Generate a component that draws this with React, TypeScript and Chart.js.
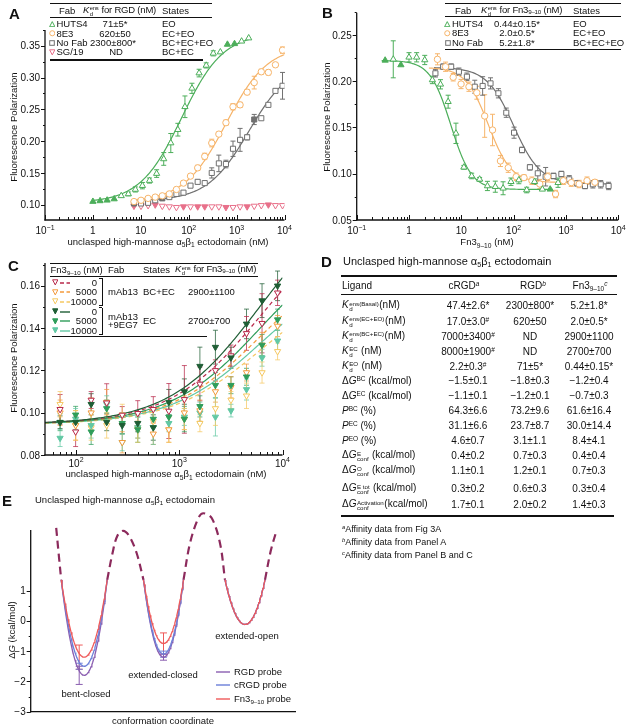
import React, { useEffect, useRef } from "react";
import { Chart, registerables } from "chart.js";
Chart.register(...registerables);

const W = 629, H = 727;
const FONT = '"Liberation Sans", Arial, Helvetica, sans-serif';

// ---------------- Panel A data ----------------
const aHutsX = [1, 1.41, 1.98, 2.78, 3.9, 5.5, 7.7, 10.8, 15.2, 21.4, 30.1, 42.3, 59.4, 83.5, 117, 165, 232, 326, 458, 644, 905, 1272, 1788];
const aHutsY = [0.105, 0.106, 0.107, 0.109, 0.114, 0.117, 0.124, 0.130, 0.138, 0.149, 0.172, 0.197, 0.218, 0.254, 0.283, 0.307, 0.319, 0.338, 0.340, 0.352, 0.353, 0.357, 0.362];
const aHutsErr = [0, 0, 0, 0, 0, 0.003, 0.004, 0.005, 0.004, 0.006, 0.01, 0.015, 0.01, 0.017, 0.008, 0.006, 0.004, 0.004, 0, 0, 0, 0, 0];
const aHutsFilled = [1, 1, 1, 1, 0, 0, 0, 0, 0, 0, 0, 0, 0, 0, 0, 0, 0, 0, 0, 1, 1, 0, 0];
const aDilX = [7.2, 10.1, 14.2, 20.0, 28.1, 39.4, 55.4, 77.8, 109, 154, 216, 303, 426, 599, 841, 1182, 1660, 2333, 3278, 4606, 6471, 9092];
const a8e3Y = [0.105, 0.107, 0.110, 0.112, 0.114, 0.117, 0.124, 0.134, 0.145, 0.158, 0.176, 0.197, 0.211, 0.229, 0.254, 0.257, 0.277, 0.292, 0.309, 0.308, 0.320, 0.343];
const a8e3Err = [0, 0, 0, 0, 0, 0, 0, 0, 0.003, 0.004, 0.005, 0.006, 0.003, 0.004, 0.005, 0.004, 0.004, 0.01, 0.004, 0.004, 0.003, 0.005];
const aNoFabY = [0.102, 0.102, 0.103, 0.107, 0.110, 0.112, 0.117, 0.119, 0.130, 0.136, 0.134, 0.150, 0.165, 0.164, 0.188, 0.202, 0.206, 0.234, 0.236, 0.257, 0.279, 0.287];
const aNoFabErr = [0, 0, 0, 0, 0, 0, 0, 0, 0, 0.003, 0, 0.008, 0.013, 0.006, 0.012, 0.018, 0.004, 0.008, 0, 0, 0, 0.021];
const aNoFabFilled = [1, 0, 0, 0, 1, 0, 0, 0, 0, 0, 0, 0, 0, 0, 0, 0, 0, 1, 0, 0, 0, 0];
const aSgY = [0.098, 0.098, 0.099, 0.100, 0.098, 0.097, 0.096, 0.097, 0.097, 0.097, 0.097, 0.097, 0.097, 0.096, 0.096, 0.097, 0.097, 0.098, 0.099, 0.100, 0.099, 0.099];
const aSgFilled = [1, 0, 0, 1, 0, 0, 0, 1, 0, 1, 1, 0, 0, 1, 0, 0, 1, 0, 0, 1, 0, 0];
const aFitHuts = { bottom: 0.103, top: 0.370, k: 71, from: 1, to: 1950 };
const aFit8e3 = { bottom: 0.105, top: 0.350, k: 600, from: 7, to: 10000 };
const aFitNoFab = { bottom: 0.106, top: 0.325, k: 1800, from: 7, to: 9300 };

// ---------------- Panel B data ----------------
const bHutsX = [0.35, 0.5, 0.7, 1.0, 1.4, 2.0, 2.8, 4.0, 5.6, 7.9, 11.2, 15.8, 22.4, 31.6, 44.7, 63, 89, 126, 178, 251, 355, 501, 708];
const bHutsY = [0.2226, 0.2237, 0.2176, 0.2259, 0.2259, 0.223, 0.2014, 0.1967, 0.1779, 0.1437, 0.107, 0.0976, 0.094, 0.0868, 0.086, 0.0843, 0.0914, 0.0932, 0.0824, 0.0914, 0.0832, 0.0832, 0.0903];
const bHutsErr = [0, 0.02, 0, 0.005, 0.005, 0.005, 0.004, 0.005, 0.007, 0.011, 0.002, 0.003, 0.002, 0.005, 0.006, 0.007, 0.004, 0.004, 0.003, 0.003, 0, 0, 0.005];
const bHutsFilled = [1, 0, 1, 0, 0, 0, 0, 0, 0, 0, 0, 0, 0, 0, 0, 0, 0, 0, 0, 0, 0, 1, 0];
const b8e3X = [3.5, 5.0, 7.0, 9.9, 14, 19.8, 28, 39.6, 56, 79, 112, 158, 224, 317, 448, 634, 896, 1267, 1792, 2534, 3584];
const b8e3Y = [0.2237, 0.2157, 0.2043, 0.197, 0.1941, 0.1876, 0.1624, 0.1473, 0.1138, 0.1065, 0.0968, 0.0958, 0.0925, 0.0889, 0.0968, 0.0781, 0.0925, 0.0904, 0.0889, 0.0925, 0.0908];
const b8e3Err = [0.006, 0.005, 0.004, 0.005, 0.005, 0.007, 0.023, 0.017, 0.006, 0.005, 0.004, 0.003, 0.004, 0.005, 0.004, 0.004, 0.004, 0.004, 0.004, 0.004, 0.003];
const bNoFabX = [3.2, 4.5, 6.4, 9.0, 12.8, 18.1, 25.6, 36.2, 51.2, 72.4, 102, 145, 205, 290, 410, 579, 819, 1158, 1638, 2317, 3277, 4634, 6554];
const bNoFabY = [0.2086, 0.2157, 0.2157, 0.2103, 0.2049, 0.1941, 0.1949, 0.1977, 0.187, 0.166, 0.1444, 0.1257, 0.107, 0.1005, 0.0968, 0.0976, 0.0997, 0.094, 0.0897, 0.0868, 0.0886, 0.0886, 0.0868];
const bNoFabErr = [0.004, 0.003, 0.003, 0.004, 0.004, 0.007, 0.01, 0.006, 0.005, 0.005, 0.006, 0.003, 0.003, 0.008, 0.01, 0.003, 0.003, 0.004, 0.003, 0.003, 0.004, 0.004, 0.004];
const bFitHuts = { top: 0.2225, bottom: 0.083, ic: 6.3, h: 2.2, from: 0.3, to: 560 };
const bFit8e3 = { top: 0.215, bottom: 0.0905, ic: 33, h: 2.0, from: 2.4, to: 3600 };
const bFitNoFab = { top: 0.215, bottom: 0.089, ic: 100, h: 1.7, from: 3, to: 7000 };

// ---------------- Panel C data ----------------
const cX = [70, 99, 140, 198, 280, 396, 560, 792, 1120, 1584, 2240, 3168, 4480, 6336, 8960];
const cM0Y = [0.1016, 0.091, 0.106, 0.1047, 0.0989, 0.0997, 0.1016, 0.1008, 0.1063, 0.1136, 0.120, 0.127, 0.1375, 0.1423, 0.1567];
const cM0Err = [0.007, 0.007, 0.004, 0.009, 0.004, 0.006, 0.006, 0.013, 0.016, 0.008, 0.005, 0.005, 0.008, 0.014, 0.006];
const cM5Y = [0.100, 0.094, 0.100, 0.105, 0.086, 0.092, 0.090, 0.092, 0.100, 0.101, 0.110, 0.112, 0.119, 0.132, 0.141];
const cM5Err = [0.006, 0.007, 0.007, 0.006, 0.005, 0.004, 0.005, 0.006, 0.008, 0.005, 0.005, 0.005, 0.004, 0.006, 0.005];
const cM10Y = [0.104, 0.094, 0.093, 0.094, 0.099, 0.093, 0.096, 0.092, 0.097, 0.095, 0.102, 0.106, 0.108, 0.119, 0.129];
const cM10Err = [0.006, 0.007, 0.006, 0.006, 0.005, 0.007, 0.006, 0.006, 0.005, 0.004, 0.008, 0.004, 0.006, 0.005, 0.004];
const cE0Y = [0.0955, 0.0955, 0.104, 0.0955, 0.094, 0.095, 0.093, 0.105, 0.110, 0.122, 0.131, 0.126, 0.142, 0.153, 0.160];
const cE0Err = [0.003, 0.004, 0.005, 0.004, 0.004, 0.004, 0.006, 0.006, 0.006, 0.009, 0.008, 0.005, 0.007, 0.008, 0.007];
const cE5Y = [0.0955, 0.099, 0.091, 0.102, 0.095, 0.092, 0.097, 0.098, 0.097, 0.103, 0.113, 0.113, 0.117, 0.132, 0.144];
const cE5Err = [0.004, 0.004, 0.006, 0.004, 0.005, 0.006, 0.004, 0.005, 0.006, 0.005, 0.006, 0.004, 0.004, 0.005, 0.005];
const cE10Y = [0.088, 0.097, 0.094, 0.104, 0.086, 0.093, 0.093, 0.095, 0.098, 0.100, 0.098, 0.101, 0.111, 0.126, 0.134];
const cE10Err = [0.004, 0.005, 0.006, 0.004, 0.004, 0.005, 0.008, 0.004, 0.004, 0.005, 0.009, 0.003, 0.005, 0.004, 0.005];
const cFitBase = 0.0945, cFitK = 6000;
const cFitAmp = { m0: 0.1016, m5: 0.0824, m10: 0.0696, e0: 0.111, e5: 0.0904, e10: 0.076 };

// ---------------- Panel D data ----------------
const dCRGD = ["47.4±2.6*", "17.0±3.0#", "7000±3400#", "8000±1900#", "2.2±0.3#", "−1.5±0.1", "−1.1±0.1", "64.3±6.6", "31.1±6.6", "4.6±0.7", "0.4±0.2", "1.1±0.1", "0.3±0.2", "1.7±0.1"];
const dRGD = ["2300±800*", "620±50", "ND", "ND", "71±5*", "−1.8±0.3", "−1.2±0.1", "73.2±9.6", "23.7±8.7", "3.1±1.1", "0.7±0.3", "1.2±0.1", "0.6±0.3", "2.0±0.2"];
const dFn3 = ["5.2±1.8*", "2.0±0.5*", "2900±1100", "2700±700", "0.44±0.15*", "−1.2±0.4", "−0.7±0.3", "61.6±16.4", "30.0±14.4", "8.4±4.1", "0.4±0.4", "0.7±0.3", "0.3±0.4", "1.4±0.3"];
const dRowY = [306, 321.5, 336.5, 351.5, 366.5, 381, 396.3, 411, 426, 441, 456, 471, 489, 505];

// ---------------- Panel E data ----------------
const eWellCenter = [53.5, 132.8, 214.3];
const eWellHalf = [23, 20, 20];
const eWellTop = 1.35;
const eMinRGD = [-1.8, -1.2, -0.12];
const eMinCRGD = [-1.5, -1.1, -0.12];
const eMinFn3 = [-1.2, -0.75, -0.12];
const eErrRGD = [0.3, 0.1];
const eErrCRGD = [0.1, 0.1];
const eErrFn3 = [0.4, 0.35];
const eErrX = [48.5, 132.8];
const eBarX = [25.5, 28.0, 30.5, null, 76.5, 81.8, 86.6, 92.6, 98.5, 106, 112.8, null, 152.8, 159.3, 167.6, 172.6, 181, 189.3, 194.3, null, 234.3, 240, 246];
const eBarY = [3.07, 2.2, 1.35, null, 1.35, 2.23, 2.8, 2.97, 2.8, 2.23, 1.35, null, 1.35, 2.56, 3.39, 3.55, 3.39, 2.56, 1.35, null, 1.35, 2.3, 3.0];

// ---------------- colours ----------------
const GREEN = "#4cae5a", ORANGE = "#f6b46a", GREY = "#707070", PINK = "#e8708a";
const C_M0 = "#b8284a", C_M5 = "#f39a3c", C_M10 = "#f5c862", C_E0 = "#1f5e35", C_E5 = "#2f9d5a", C_E10 = "#62c8a4";
const E_RGD = "#8a5db0", E_CRGD = "#6b7fd8", E_FN3 = "#ef5a5a", E_DASH = "#8c2a5c";

type Seg = { t: string; k?: "sub" | "sup"; i?: boolean };

function segFont(size: number, s: Seg) {
  const sz = s.k ? size * 0.7 : size;
  return `${s.i ? "italic " : ""}${sz}px ${FONT}`;
}
function drawRich(ctx: CanvasRenderingContext2D, segs: Seg[], x: number, y: number, size: number, align: string) {
  let w = 0;
  for (const s of segs) { ctx.font = segFont(size, s); w += ctx.measureText(s.t).width; }
  let cx = align === "center" ? x - w / 2 : align === "right" ? x - w : x;
  ctx.textAlign = "left";
  ctx.textBaseline = "alphabetic";
  for (const s of segs) {
    ctx.font = segFont(size, s);
    const dy = s.k === "sub" ? size * 0.25 : s.k === "sup" ? -size * 0.42 : 0;
    ctx.fillText(s.t, cx, y + dy);
    cx += ctx.measureText(s.t).width;
  }
}

function logGrid(min: number, max: number, n: number) {
  const a = Math.log10(min), b = Math.log10(max);
  return Array.from({ length: n }, (_, i) => Math.pow(10, a + ((b - a) * i) / (n - 1)));
}
function decadeMinors(from: number, to: number) {
  const out: number[] = [];
  for (let e = from; e < to; e++) for (let m = 2; m <= 9; m++) out.push(m * Math.pow(10, e));
  return out;
}
function powLabel(v: number): Seg[] {
  const e = Math.round(Math.log10(v));
  if (e === 0) return [{ t: "1" }];
  if (e === 1) return [{ t: "10" }];
  return [{ t: "10" }, { t: e < 0 ? "−" + -e : String(e), k: "sup" }];
}
function steps(a: number, b: number, s: number) {
  const out: number[] = [];
  for (let v = a; v <= b + 1e-9; v += s) out.push(Math.round(v * 1000) / 1000);
  return out;
}

function pts(xs: number[], ys: (number | null)[]) {
  return xs.map((x, i) => ({ x, y: ys[i] }));
}
function markerDs(xs: number[], ys: number[], errs: number[] | null, o: any) {
  return {
    type: "scatter",
    data: pts(xs, ys),
    errs,
    errColor: o.errColor ?? o.color,
    pointStyle: o.style,
    pointRotation: o.rotation ?? 0,
    pointRadius: o.radius ?? 3.3,
    pointBorderWidth: 1,
    pointBorderColor: o.color,
    pointBackgroundColor: xs.map((_, i) => ((Array.isArray(o.filled) ? o.filled[i] : o.filled) ? o.color : "#ffffff")),
    showLine: false,
  };
}
function curveDs(xs: number[], ys: (number | null)[], color: string, dash: number[] = [], width = 1, tension = 0) {
  return {
    type: "scatter",
    data: pts(xs, ys),
    showLine: true,
    borderColor: color,
    borderWidth: width,
    borderDash: dash,
    pointRadius: 0,
    fill: false,
    tension,
    spanGaps: false,
  };
}

function makeDecor(id: string, cfg: any) {
  return {
    id,
    beforeDatasetsDraw(chart: any) {
      const ctx = chart.ctx as CanvasRenderingContext2D;
      const ys = chart.scales.y;
      chart.data.datasets.forEach((ds: any, i: number) => {
        if (!ds.errs) return;
        const meta = chart.getDatasetMeta(i);
        ctx.save();
        ctx.strokeStyle = ds.errColor;
        ctx.lineWidth = 1;
        meta.data.forEach((el: any, j: number) => {
          const e = ds.errs[j];
          if (!e) return;
          const v = ds.data[j].y;
          const x = el.x;
          const y1 = ys.getPixelForValue(v - e), y2 = ys.getPixelForValue(v + e);
          const c = cfg.cap;
          ctx.beginPath();
          ctx.moveTo(x, y1); ctx.lineTo(x, y2);
          ctx.moveTo(x - c, y1); ctx.lineTo(x + c, y1);
          ctx.moveTo(x - c, y2); ctx.lineTo(x + c, y2);
          ctx.stroke();
        });
        ctx.restore();
      });
    },
    afterDraw(chart: any) {
      const ctx = chart.ctx as CanvasRenderingContext2D;
      const ca = chart.chartArea;
      ctx.save();
      ctx.strokeStyle = "#111";
      ctx.fillStyle = "#111";
      for (const ax of cfg.axes) {
        if (ax.pos === "bottom") {
          const s = chart.scales.x;
          const y0 = ca.bottom;
          const xa = ax.lineFrom != null ? s.getPixelForValue(ax.lineFrom) : ca.left;
          const xb = ax.lineTo != null ? s.getPixelForValue(ax.lineTo) : ca.right;
          ctx.lineWidth = 1.3;
          ctx.beginPath(); ctx.moveTo(xa - 0.6, y0); ctx.lineTo(xb, y0); ctx.stroke();
          ctx.lineWidth = 1;
          const dir = ax.inward ? -1 : 1;
          ctx.beginPath();
          for (const v of ax.major) { const p = Math.round(s.getPixelForValue(v)) + 0.5; ctx.moveTo(p, y0); ctx.lineTo(p, y0 + dir * ax.majLen); }
          for (const v of ax.minor) { const p = Math.round(s.getPixelForValue(v)) + 0.5; ctx.moveTo(p, y0); ctx.lineTo(p, y0 + dir * ax.minLen); }
          ctx.stroke();
          for (const l of ax.labels) drawRich(ctx, l.segs, s.getPixelForValue(l.v), y0 + ax.labelGap, ax.size, "center");
        } else {
          const s = chart.scales.y;
          const x0 = ca.left;
          const ya = ax.lineFrom != null ? s.getPixelForValue(ax.lineFrom) : ca.bottom;
          const yb = ax.lineTo != null ? s.getPixelForValue(ax.lineTo) : ca.top;
          ctx.lineWidth = 1.3;
          ctx.beginPath(); ctx.moveTo(x0, ya + 0.6); ctx.lineTo(x0, yb); ctx.stroke();
          ctx.lineWidth = 1;
          const dir = ax.inward ? 1 : -1;
          ctx.beginPath();
          for (const v of ax.major) { const p = Math.round(s.getPixelForValue(v)) + 0.5; ctx.moveTo(x0, p); ctx.lineTo(x0 + dir * ax.majLen, p); }
          for (const v of ax.minor) { const p = Math.round(s.getPixelForValue(v)) + 0.5; ctx.moveTo(x0, p); ctx.lineTo(x0 + dir * ax.minLen, p); }
          ctx.stroke();
          for (const l of ax.labels) drawRich(ctx, l.segs, x0 - ax.labelGap, s.getPixelForValue(l.v) + ax.size * 0.36, ax.size, "right");
        }
      }
      for (const t of cfg.titles) {
        if (t.rot) {
          ctx.save();
          ctx.translate(t.x, t.y);
          ctx.rotate(-Math.PI / 2);
          drawRich(ctx, t.segs, 0, t.size * 0.36, t.size, "center");
          ctx.restore();
        } else {
          drawRich(ctx, t.segs, t.x, t.y + t.size * 0.36, t.size, "center");
        }
      }
      ctx.restore();
    },
  };
}

function baseOptions(pad: any, x: any, y: any) {
  return {
    animation: false,
    responsive: false,
    devicePixelRatio: 1,
    layout: { padding: pad },
    plugins: { legend: { display: false }, tooltip: { enabled: false } },
    scales: { x: { ...x, display: false }, y: { ...y, display: false } },
  };
}

const ALPHA_TITLE: Seg[] = [{ t: "unclasped high-mannose α" }, { t: "5", k: "sub" }, { t: "β" }, { t: "1", k: "sub" }, { t: " ectodomain (nM)" }];
const FP_TITLE: Seg[] = [{ t: "Fluorescence Polarization" }];

function configA(): any {
  const g1 = logGrid(aFitHuts.from, aFitHuts.to, 150);
  const g2 = logGrid(aFit8e3.from, aFit8e3.to, 150);
  const g3 = logGrid(aFitNoFab.from, aFitNoFab.to, 150);
  const hyp = (p: any, x: number) => p.bottom + ((p.top - p.bottom) * x) / (x + p.k);
  return {
    type: "scatter",
    data: {
      datasets: [
        markerDs(aHutsX, aHutsY, aHutsErr, { color: GREEN, style: "triangle", radius: 3.6, filled: aHutsFilled }),
        markerDs(aDilX, a8e3Y, a8e3Err, { color: ORANGE, style: "circle", radius: 3.2, filled: false }),
        markerDs(aDilX, aNoFabY, aNoFabErr, { color: GREY, style: "rect", radius: 3.6, filled: aNoFabFilled }),
        markerDs(aDilX, aSgY, null, { color: PINK, style: "triangle", rotation: 180, radius: 3.6, filled: aSgFilled }),
        curveDs(g1, g1.map((x) => hyp(aFitHuts, x)), GREEN, [], 1.2),
        curveDs(g2, g2.map((x) => hyp(aFit8e3, x)), ORANGE, [], 1.2),
        curveDs(g3, g3.map((x) => hyp(aFitNoFab, x)), GREY, [], 1.2),
      ],
    },
    options: baseOptions({ left: 45, top: 30, right: W - 284.5, bottom: H - 220 }, { type: "logarithmic", min: 0.1, max: 10000 }, { type: "linear", min: 0.076, max: 0.3747 }),
    plugins: [
      makeDecor("decorA", {
        cap: 2.5,
        axes: [
          { pos: "bottom", major: [0.1, 1, 10, 100, 1000, 10000], minor: decadeMinors(-1, 4), inward: true, majLen: 5, minLen: 3, labelGap: 14, size: 10, labels: [0.1, 1, 10, 100, 1000, 10000].map((v) => ({ v, segs: powLabel(v) })) },
          { pos: "left", major: steps(0.1, 0.35, 0.05), minor: steps(0.125, 0.375, 0.05), inward: false, majLen: 4, minLen: 2, labelGap: 5, size: 10, labels: steps(0.1, 0.35, 0.05).map((v) => ({ v, segs: [{ t: v.toFixed(2) }] })) },
        ],
        titles: [
          { x: 168, y: 241.5, segs: ALPHA_TITLE, size: 9.5 },
          { x: 14, y: 127, segs: FP_TITLE, size: 9.5, rot: true },
        ],
      }),
    ],
  };
}

function configB(): any {
  const hill = (p: any, x: number) => p.bottom + (p.top - p.bottom) / (1 + Math.pow(x / p.ic, p.h));
  const g1 = logGrid(bFitHuts.from, bFitHuts.to, 150);
  const g2 = logGrid(bFit8e3.from, bFit8e3.to, 150);
  const g3 = logGrid(bFitNoFab.from, bFitNoFab.to, 150);
  return {
    type: "scatter",
    data: {
      datasets: [
        markerDs(bHutsX, bHutsY, bHutsErr, { color: GREEN, style: "triangle", radius: 3.6, filled: bHutsFilled }),
        markerDs(b8e3X, b8e3Y, b8e3Err, { color: ORANGE, style: "circle", radius: 3.2, filled: false }),
        markerDs(bNoFabX, bNoFabY, bNoFabErr, { color: GREY, style: "rect", radius: 3.6, filled: false }),
        curveDs(g1, g1.map((x) => hill(bFitHuts, x)), GREEN, [], 1.2),
        curveDs(g2, g2.map((x) => hill(bFit8e3, x)), ORANGE, [], 1.2),
        curveDs(g3, g3.map((x) => hill(bFitNoFab, x)), GREY, [], 1.2),
      ],
    },
    options: baseOptions({ left: 356.7, top: 12.7, right: W - 618.2, bottom: H - 220 }, { type: "logarithmic", min: 0.1, max: 10000 }, { type: "linear", min: 0.05, max: 0.2741 }),
    plugins: [
      makeDecor("decorB", {
        cap: 2.5,
        axes: [
          { pos: "bottom", major: [0.1, 1, 10, 100, 1000, 10000], minor: decadeMinors(-1, 4), inward: true, majLen: 5, minLen: 3, labelGap: 14, size: 10, labels: [0.1, 1, 10, 100, 1000, 10000].map((v) => ({ v, segs: powLabel(v) })) },
          { pos: "left", major: steps(0.05, 0.25, 0.05), minor: steps(0.075, 0.275, 0.05), inward: false, majLen: 4, minLen: 2, labelGap: 5, size: 10, labels: steps(0.05, 0.25, 0.05).map((v) => ({ v, segs: [{ t: v.toFixed(2) }] })) },
        ],
        titles: [
          { x: 487, y: 242, segs: [{ t: "Fn3" }, { t: "9–10", k: "sub" }, { t: " (nM)" }], size: 9.5 },
          { x: 327, y: 117, segs: FP_TITLE, size: 9.5, rot: true },
        ],
      }),
    ],
  };
}

function configC(): any {
  const g = logGrid(50, 10000, 150);
  const f = (amp: number) => g.map((x) => cFitBase + (amp * x) / (x + cFitK));
  const err = (c: string) => c + "bb";
  return {
    type: "scatter",
    data: {
      datasets: [
        markerDs(cX, cE0Y, cE0Err, { color: C_E0, errColor: err(C_E0), style: "triangle", rotation: 180, radius: 3.6, filled: true }),
        markerDs(cX, cM0Y, cM0Err, { color: C_M0, errColor: err(C_M0), style: "triangle", rotation: 180, radius: 3.6, filled: false }),
        markerDs(cX, cE5Y, cE5Err, { color: C_E5, errColor: err(C_E5), style: "triangle", rotation: 180, radius: 3.6, filled: true }),
        markerDs(cX, cM5Y, cM5Err, { color: C_M5, errColor: err(C_M5), style: "triangle", rotation: 180, radius: 3.6, filled: false }),
        markerDs(cX, cE10Y, cE10Err, { color: C_E10, errColor: err(C_E10), style: "triangle", rotation: 180, radius: 3.6, filled: true }),
        markerDs(cX, cM10Y, cM10Err, { color: C_M10, errColor: err(C_M10), style: "triangle", rotation: 180, radius: 3.6, filled: false }),
        curveDs(g, f(cFitAmp.e0), C_E0, [], 1.2),
        curveDs(g, f(cFitAmp.m0), C_M0, [4, 3], 1.2),
        curveDs(g, f(cFitAmp.e5), C_E5, [], 1.2),
        curveDs(g, f(cFitAmp.m5), C_M5, [4, 3], 1.2),
        curveDs(g, f(cFitAmp.e10), C_E10, [], 1.2),
        curveDs(g, f(cFitAmp.m10), C_M10, [4, 3], 1.2),
      ],
    },
    options: baseOptions({ left: 45, top: 263, right: W - 282.5, bottom: H - 455 }, { type: "logarithmic", min: 50, max: 10000 }, { type: "linear", min: 0.08, max: 0.1708 }),
    plugins: [
      makeDecor("decorC", {
        cap: 2.5,
        axes: [
          { pos: "bottom", major: [100, 1000, 10000], minor: [60, 70, 80, 90].concat(decadeMinors(2, 4)), inward: true, majLen: 5, minLen: 3, labelGap: 11.5, size: 10, labels: [100, 1000, 10000].map((v) => ({ v, segs: powLabel(v) })) },
          { pos: "left", major: steps(0.08, 0.16, 0.02), minor: steps(0.09, 0.17, 0.02), inward: false, majLen: 4, minLen: 2, labelGap: 5, size: 10, labels: steps(0.08, 0.16, 0.02).map((v) => ({ v, segs: [{ t: v.toFixed(2) }] })) },
        ],
        titles: [
          { x: 166, y: 474, segs: ALPHA_TITLE, size: 9.5 },
          { x: 14, y: 358, segs: FP_TITLE, size: 9.5, rot: true },
        ],
      }),
    ],
  };
}

function wellSeries(mins: number[]) {
  const xs: number[] = [];
  const ys: (number | null)[] = [];
  for (let w = 0; w < 3; w++) {
    const c = eWellCenter[w], hw = eWellHalf[w], m = mins[w];
    for (let i = 0; i <= 60; i++) {
      const x = c - hw + (2 * hw * i) / 60;
      const u = (x - c) / hw;
      xs.push(x);
      ys.push(m + (eWellTop - m) * u * u);
    }
    xs.push(c + hw + 0.01);
    ys.push(null);
  }
  return { xs, ys };
}

function configE(): any {
  const r = wellSeries(eMinRGD), c = wellSeries(eMinCRGD), f = wellSeries(eMinFn3);
  const errDs = (mins: number[], errs: number[], color: string) => ({
    type: "scatter",
    data: eErrX.map((x, i) => ({ x, y: mins[i] })),
    errs,
    errColor: color,
    pointRadius: 0,
    showLine: false,
  });
  const dash = curveDs(eBarX as any, eBarY, E_DASH, [8, 5], 2.2, 0.35);
  return {
    type: "scatter",
    data: {
      datasets: [
        curveDs(f.xs, f.ys, E_FN3, [], 1.3),
        curveDs(c.xs, c.ys, E_CRGD, [], 1.3),
        curveDs(r.xs, r.ys, E_RGD, [], 1.3),
        errDs(eMinFn3, eErrFn3, E_FN3),
        errDs(eMinCRGD, eErrCRGD, E_CRGD),
        errDs(eMinRGD, eErrRGD, E_RGD),
        dash,
      ],
    },
    options: baseOptions({ left: 30.7, top: 499.6, right: W - 296, bottom: H - 711.7 }, { type: "linear", min: 0, max: 265.3 }, { type: "linear", min: -3, max: 4 }),
    plugins: [
      makeDecor("decorE", {
        cap: 3.5,
        axes: [
          { pos: "bottom", major: [], minor: [], inward: true, majLen: 0, minLen: 0, labelGap: 12, size: 10, labels: [] },
          { pos: "left", lineFrom: -3, lineTo: 3, major: [-3, -2, -1, 0, 1], minor: [-2.5, -1.5, -0.5, 0.5], inward: false, majLen: 4, minLen: 2, labelGap: 5, size: 10, labels: [-3, -2, -1, 0, 1].map((v) => ({ v, segs: [{ t: v < 0 ? "−" + -v : String(v) }] })) },
        ],
        titles: [
          { x: 163, y: 721, segs: [{ t: "conformation coordinate" }], size: 9.5 },
          { x: 12, y: 630, segs: [{ t: "Δ" }, { t: "G", i: true }, { t: " (kcal/mol)" }], size: 9.5, rot: true },
        ],
      }),
    ],
  };
}

// ---------------- HTML helpers ----------------
function Txt(p: any) {
  const tx = p.align === "center" ? "-50%" : p.align === "right" ? "-100%" : "0";
  return (
    <div
      style={{
        position: "absolute", left: p.x, top: p.y, transform: `translate(${tx},-50%)`,
        fontSize: p.size ?? 9.5, fontFamily: FONT, fontWeight: p.bold ? "bold" : "normal",
        whiteSpace: "nowrap", lineHeight: 1, color: p.color ?? "#111", letterSpacing: p.ls ?? 0,
      }}
    >
      {p.children}
    </div>
  );
}
function HLine({ x1, x2, y, w = 1 }: any) {
  return <div style={{ position: "absolute", left: x1, top: y - w / 2, width: x2 - x1, height: w, background: "#111" }} />;
}
function VLine({ x, y1, y2, w = 1 }: any) {
  return <div style={{ position: "absolute", left: x - w / 2, top: y1, width: w, height: y2 - y1, background: "#111" }} />;
}
const I = ({ children }: any) => <i>{children}</i>;
const Sup = ({ children }: any) => <span style={{ fontSize: "0.65em", verticalAlign: "0.5em", lineHeight: 0 }}>{children}</span>;
const Sub = ({ children }: any) => <span style={{ fontSize: "0.65em", verticalAlign: "-0.3em", lineHeight: 0 }}>{children}</span>;
const SS = ({ sup, sub }: any) => (
  <span style={{ display: "inline-flex", flexDirection: "column", fontSize: "0.62em", lineHeight: 0.95, verticalAlign: "0.4em", margin: "0 0.5px" }}>
    <span>{sup}</span>
    <span>{sub}</span>
  </span>
);
const Fn3 = () => (<>Fn3<Sub>9–10</Sub></>);

function Marker({ shape, color, filled, x, y, s = 6.5 }: any) {
  const fill = filled ? color : "#fff";
  let el: any = null;
  if (shape === "tri") el = <polygon points={`${s / 2},0.6 ${s - 0.6},${s - 0.8} 0.6,${s - 0.8}`} fill={fill} stroke={color} strokeWidth={1} />;
  if (shape === "down") el = <polygon points={`0.6,0.8 ${s - 0.6},0.8 ${s / 2},${s - 0.6}`} fill={fill} stroke={color} strokeWidth={1} />;
  if (shape === "circle") el = <circle cx={s / 2} cy={s / 2} r={s / 2 - 0.7} fill={fill} stroke={color} strokeWidth={1} />;
  if (shape === "square") el = <rect x={0.7} y={0.7} width={s - 1.4} height={s - 1.4} fill={fill} stroke={color} strokeWidth={1} />;
  return (
    <svg style={{ position: "absolute", left: x - s / 2, top: y - s / 2 }} width={s} height={s}>
      {el}
    </svg>
  );
}
function LineSample({ x1, x2, y, color, dashed }: any) {
  return (
    <svg style={{ position: "absolute", left: x1, top: y - 2 }} width={x2 - x1} height={4}>
      <line x1={0} y1={2} x2={x2 - x1} y2={2} stroke={color} strokeWidth={1.4} strokeDasharray={dashed ? "4 2.5" : undefined} />
    </svg>
  );
}

function ValCell({ v, x, y }: any) {
  const hash = v.endsWith("#");
  return (
    <Txt x={x} y={y} align="center" size={10}>
      {hash ? v.slice(0, -1) : v}
      {hash ? <Sup>#</Sup> : null}
    </Txt>
  );
}

const dLabels = [
  <><I>K</I><SS sup="ens(Basal)" sub="d" />(nM)</>,
  <><I>K</I><SS sup="ens(EC+EO)" sub="d" />(nM)</>,
  <><I>K</I><SS sup="ens(BC+EC)" sub="d" />(nM)</>,
  <><I>K</I><SS sup="EC" sub="d" /> (nM)</>,
  <><I>K</I><SS sup="EO" sub="d" /> (nM)</>,
  <>Δ<I>G</I><Sup>BC</Sup> (kcal/mol)</>,
  <>Δ<I>G</I><Sup>EC</Sup> (kcal/mol)</>,
  <><I>P</I><Sup>BC</Sup> (%)</>,
  <><I>P</I><Sup>EC</Sup> (%)</>,
  <><I>P</I><Sup>EO</Sup> (%)</>,
  <>Δ<I>G</I><SS sup="E" sub="conf" /> (kcal/mol)</>,
  <>Δ<I>G</I><SS sup="O" sub="conf" /> (kcal/mol)</>,
  <>Δ<I>G</I><SS sup="E tot" sub="conf" /> (kcal/mol)</>,
  <>Δ<I>G</I><SS sup="Activation" sub="conf" />(kcal/mol)</>,
];

export default function App() {
  const rA = useRef<HTMLCanvasElement>(null);
  const rB = useRef<HTMLCanvasElement>(null);
  const rC = useRef<HTMLCanvasElement>(null);
  const rE = useRef<HTMLCanvasElement>(null);
  useEffect(() => {
    const charts = [
      new Chart(rA.current as any, configA()),
      new Chart(rB.current as any, configB()),
      new Chart(rC.current as any, configC()),
      new Chart(rE.current as any, configE()),
    ];
    return () => charts.forEach((c) => c.destroy());
  }, []);
  const cv = { position: "absolute" as const, left: 0, top: 0, width: W, height: H };
  const cRows = [282.7, 292.3, 301.7, 311.7, 321, 330.7];
  const cLeg = [
    { c: C_M0, f: false, n: "0" }, { c: C_M5, f: false, n: "5000" }, { c: C_M10, f: false, n: "10000" },
    { c: C_E0, f: true, n: "0" }, { c: C_E5, f: true, n: "5000" }, { c: C_E10, f: true, n: "10000" },
  ];
  return (
    <div style={{ position: "absolute", left: 0, top: 0, width: W, height: H, background: "#fff", overflow: "hidden", fontFamily: FONT }}>
      <canvas ref={rA} width={W} height={H} style={cv} />
      <canvas ref={rB} width={W} height={H} style={cv} />
      <canvas ref={rC} width={W} height={H} style={cv} />
      <canvas ref={rE} width={W} height={H} style={cv} />

      {/* panel letters */}
      <Txt x={9} y={13} size={15} bold>A</Txt>
      <Txt x={322} y={12} size={15} bold>B</Txt>
      <Txt x={8} y={265} size={15} bold>C</Txt>
      <Txt x={321} y={261} size={15} bold>D</Txt>
      <Txt x={2} y={500} size={15} bold>E</Txt>

      {/* legend A */}
      <HLine x1={50} x2={212} y={3.5} w={1.6} />
      <Txt x={59} y={10.5}>Fab</Txt>
      <Txt x={83} y={10.5} ls={-0.2}><I>K</I><SS sup="ens" sub="d" /> for RGD (nM)</Txt>
      <Txt x={162} y={10.5}>States</Txt>
      <HLine x1={50} x2={212} y={17.3} w={0.8} />
      <Marker shape="tri" color={GREEN} x={52} y={24} />
      <Txt x={56.5} y={24}>HUTS4</Txt>
      <Txt x={115} y={24} align="center">71±5*</Txt>
      <Txt x={162} y={24}>EO</Txt>
      <Marker shape="circle" color={ORANGE} x={52} y={33.5} />
      <Txt x={56.5} y={33.5}>8E3</Txt>
      <Txt x={115} y={33.5} align="center">620±50</Txt>
      <Txt x={162} y={33.5}>EC+EO</Txt>
      <Marker shape="square" color={GREY} x={52} y={42.8} s={6} />
      <Txt x={56.5} y={42.8}>No Fab</Txt>
      <Txt x={113} y={42.8} align="center">2300±800*</Txt>
      <Txt x={162} y={42.8}>BC+EC+EO</Txt>
      <Marker shape="down" color={PINK} x={52} y={52.2} />
      <Txt x={56.5} y={52.2}>SG/19</Txt>
      <Txt x={116} y={52.2} align="center">ND</Txt>
      <Txt x={162} y={52.2}>BC+EC</Txt>
      <HLine x1={50} x2={203} y={60} w={1.6} />

      {/* legend B */}
      <HLine x1={445} x2={621} y={3.5} w={1.6} />
      <Txt x={455} y={10.5}>Fab</Txt>
      <Txt x={481} y={10.5} ls={-0.2}><I>K</I><SS sup="ens" sub="d" /> for <Fn3 /> (nM)</Txt>
      <Txt x={573} y={10.5}>States</Txt>
      <HLine x1={445} x2={621} y={16.8} w={0.8} />
      <Marker shape="tri" color={GREEN} x={447.5} y={24} />
      <Txt x={452} y={24}>HUTS4</Txt>
      <Txt x={517} y={24} align="center">0.44±0.15*</Txt>
      <Txt x={573} y={24}>EO</Txt>
      <Marker shape="circle" color={ORANGE} x={447.5} y={33.3} />
      <Txt x={452} y={33.3}>8E3</Txt>
      <Txt x={517} y={33.3} align="center">2.0±0.5*</Txt>
      <Txt x={573} y={33.3}>EC+EO</Txt>
      <Marker shape="square" color={GREY} x={447.5} y={42.7} s={6} />
      <Txt x={452} y={42.7}>No Fab</Txt>
      <Txt x={517} y={42.7} align="center">5.2±1.8*</Txt>
      <Txt x={573} y={42.7}>BC+EC+EO</Txt>
      <HLine x1={445} x2={621} y={49.5} w={1.6} />

      {/* legend C */}
      <HLine x1={50} x2={258} y={263.5} w={1.6} />
      <Txt x={50.5} y={270}><Fn3 /> (nM)</Txt>
      <Txt x={108} y={270}>Fab</Txt>
      <Txt x={143} y={270}>States</Txt>
      <Txt x={175} y={270} ls={-0.2}><I>K</I><SS sup="ens" sub="d" /> for <Fn3 /> (nM)</Txt>
      <HLine x1={50} x2={258} y={276.5} w={0.8} />
      {cLeg.map((l, i) => (
        <React.Fragment key={i}>
          <Marker shape="down" color={l.c} filled={l.f} x={55} y={cRows[i]} />
          <LineSample x1={60} x2={70} y={cRows[i]} color={l.c} dashed={!l.f} />
          <Txt x={97} y={cRows[i]} align="right">{l.n}</Txt>
        </React.Fragment>
      ))}
      <VLine x={102} y1={278} y2={306} w={0.9} />
      <HLine x1={99} x2={102.4} y={278.2} w={0.9} />
      <HLine x1={99} x2={102.4} y={305.8} w={0.9} />
      <VLine x={102} y1={307.5} y2={335} w={0.9} />
      <HLine x1={99} x2={102.4} y={307.7} w={0.9} />
      <HLine x1={99} x2={102.4} y={334.8} w={0.9} />
      <Txt x={108} y={292.3}>mAb13</Txt>
      <Txt x={143} y={292.3}>BC+EC</Txt>
      <Txt x={188} y={292.3}>2900±1100</Txt>
      <Txt x={108} y={316.8}>mAb13</Txt>
      <Txt x={108} y={325.2}>+9EG7</Txt>
      <Txt x={143} y={321}>EC</Txt>
      <Txt x={188} y={321}>2700±700</Txt>
      <HLine x1={51.5} x2={207} y={336.5} w={1.6} />

      {/* panel D */}
      <Txt x={343} y={261} size={11}>Unclasped high-mannose α<Sub>5</Sub>β<Sub>1</Sub> ectodomain</Txt>
      <HLine x1={341} x2={617} y={276} w={1.5} />
      <Txt x={342} y={286} size={10}>Ligand</Txt>
      <Txt x={464} y={286} size={10} align="center">cRGD<Sup><I>a</I></Sup></Txt>
      <Txt x={533} y={286} size={10} align="center">RGD<Sup><I>b</I></Sup></Txt>
      <Txt x={590} y={286} size={10} align="center"><Fn3 /><Sup><I>c</I></Sup></Txt>
      <HLine x1={341} x2={617} y={294.5} w={0.8} />
      {dLabels.map((lab, i) => (
        <React.Fragment key={i}>
          <Txt x={342} y={dRowY[i]} size={10}>{lab}</Txt>
          <ValCell v={dCRGD[i]} x={468} y={dRowY[i]} />
          <ValCell v={dRGD[i]} x={530} y={dRowY[i]} />
          <ValCell v={dFn3[i]} x={589} y={dRowY[i]} />
        </React.Fragment>
      ))}
      <HLine x1={341} x2={614} y={516} w={1.5} />
      <Txt x={342} y={528.5} size={9}><Sup><I>a</I></Sup>Affinity data from Fig 3A</Txt>
      <Txt x={342} y={541.5} size={9}><Sup><I>b</I></Sup>Affinity data from Panel A</Txt>
      <Txt x={342} y={554.5} size={9}><Sup><I>c</I></Sup>Affinity data from Panel B and C</Txt>

      {/* panel E */}
      <Txt x={35} y={500} size={9.5}>Unclasped high-mannose α<Sub>5</Sub>β<Sub>1</Sub> ectodomain</Txt>
      <Txt x={86} y={694} size={9.5} align="center">bent-closed</Txt>
      <Txt x={163} y={675} size={9.5} align="center">extended-closed</Txt>
      <Txt x={247} y={636} size={9.5} align="center">extended-open</Txt>
      <LineSample x1={216} x2={230} y={671.5} color={E_RGD} />
      <Txt x={234} y={671.5} size={9.5}>RGD probe</Txt>
      <LineSample x1={216} x2={230} y={685.3} color={E_CRGD} />
      <Txt x={234} y={685.3} size={9.5}>cRGD probe</Txt>
      <LineSample x1={216} x2={230} y={699} color={E_FN3} />
      <Txt x={234} y={699} size={9.5}><Fn3 /> probe</Txt>
    </div>
  );
}
